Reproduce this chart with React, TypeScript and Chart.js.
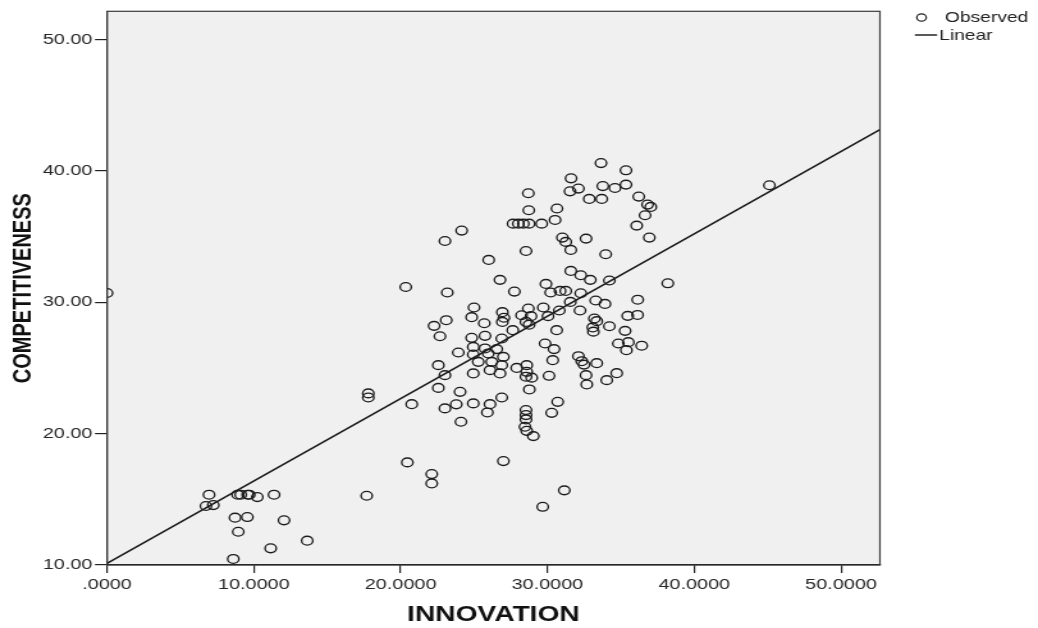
import React, { useEffect, useRef } from 'react';
import { Chart, registerables } from 'chart.js';

Chart.register(...registerables);

// ---- data ----
const innovation = [
  0.0, 6.95, 6.74, 7.24, 8.9, 9.11, 9.58, 9.69, 10.24, 11.38, 8.72, 9.56, 12.06, 8.94, 13.64, 11.15, 8.6,
  17.8, 17.8, 17.69, 20.46, 20.35, 22.12, 22.12, 20.76, 27.0, 29.68, 31.15,
  33.65, 35.35, 31.61, 32.11, 31.54, 33.77, 34.6, 35.35, 32.85, 33.7, 36.22, 36.82, 37.04, 36.65, 36.08, 36.94,
  28.7, 28.73, 30.65, 30.52, 27.66, 28.02, 28.36, 28.75, 29.61, 31.02, 31.25, 31.59, 32.63, 33.97, 28.54,
  24.16, 23.02, 26.0, 45.12,
  23.18, 26.77, 27.75, 29.9, 31.59, 32.27, 32.92, 34.22, 38.2, 30.22, 30.86, 31.25, 32.27, 31.56, 33.29, 33.92, 36.15,
  25.0, 28.7, 29.72, 30.81, 32.22, 26.93, 27.04, 26.93, 28.24, 28.54, 28.75, 28.88, 30.04,
  23.11, 22.28, 24.84, 25.7, 33.2, 33.36, 33.09, 33.13, 34.22, 35.47, 36.14, 35.29, 30.63, 27.64,
  22.68, 24.84, 25.75, 24.95, 25.75, 23.93, 24.95, 25.97, 26.55, 26.89, 27.0, 26.21, 25.29, 26.89, 26.09, 24.95, 26.77,
  22.57, 23.02, 27.91, 28.59, 28.59, 28.54, 28.93, 29.84, 30.45, 30.36, 30.11, 28.77,
  32.11, 32.34, 32.49, 33.36, 32.63, 32.68, 34.72, 34.04, 34.83, 35.51, 35.38, 36.42,
  22.57, 24.05, 23.02, 23.79, 24.95, 26.09, 26.89, 25.91, 24.11,
  28.54, 28.54, 28.54, 28.47, 28.59, 29.04, 30.7, 30.29
];
const competitiveness = [
  30.7, 15.35, 14.49, 14.56, 15.35, 15.35, 15.35, 15.35, 15.17, 15.35, 13.6, 13.65, 13.4, 12.53, 11.85, 11.27, 10.46,
  23.06, 22.75, 15.27, 17.81, 31.16, 16.92, 16.21, 22.24, 17.91, 14.43, 15.68,
  40.59, 40.04, 39.43, 38.65, 38.44, 38.84, 38.69, 38.95, 37.86, 37.86, 38.04, 37.43, 37.25, 36.62, 35.83, 34.92,
  38.29, 37.0, 37.13, 36.26, 35.98, 35.98, 35.98, 35.98, 35.98, 34.92, 34.59, 33.98, 34.84, 33.65, 33.9,
  35.45, 34.66, 33.22, 38.9,
  30.74, 31.7, 30.81, 31.39, 32.38, 32.05, 31.7, 31.65, 31.44, 30.74, 30.86, 30.86, 30.68, 30.02, 30.13, 29.87, 30.19,
  29.6, 29.52, 29.6, 29.37, 29.37, 29.24, 28.82, 28.5, 29.01, 28.5, 28.29, 28.94, 28.94,
  28.63, 28.2, 28.86, 28.4, 28.76, 28.56, 28.08, 27.76, 28.17, 28.96, 29.03, 27.82, 27.87, 27.87,
  27.41, 27.29, 27.44, 26.6, 26.48, 26.17, 26.02, 26.1, 26.43, 27.24, 25.84, 25.46, 25.46, 25.21, 24.83, 24.58, 24.58,
  25.21, 24.45, 25.0, 25.21, 24.7, 24.33, 24.26, 26.86, 26.43, 25.59, 24.4, 23.36,
  25.89, 25.51, 25.25, 25.36, 24.45, 23.74, 24.6, 24.07, 26.86, 26.96, 26.35, 26.69,
  23.48, 23.18, 21.92, 22.23, 22.3, 22.24, 22.75, 21.61, 20.9,
  21.79, 21.41, 21.08, 20.52, 20.21, 19.81, 22.42, 21.58
];
const fitX = [0, 52.65];
const fitY = [10.13, 43.14];

const xTicks = [0, 10, 20, 30, 40, 50];
const xTickLabels = ['.0000', '10.0000', '20.0000', '30.0000', '40.0000', '50.0000'];
const yTicks = [10, 20, 30, 40, 50];
const yTickLabels = ['10.00', '20.00', '30.00', '40.00', '50.00'];
const xTitle = 'INNOVATION';
const yTitle = 'COMPETITIVENESS';
const legendLabels = ['Observed', 'Linear'];

// ---- layout ----
const OUT_W = 1038;
const H = 628;
const STRETCH = 1.28;
const W = Math.round(OUT_W / STRETCH);
const FONT = '"Liberation Sans", Arial, Helvetica, sans-serif';
const AREA_LEFT = 107 / STRETCH;
const AREA_RIGHT = 880 / STRETCH;

const plotFrame = {
  id: 'plotFrame',
  beforeDraw(chart: any) {
    const { ctx, chartArea: a } = chart;
    ctx.save();
    ctx.fillStyle = '#f0f0f0';
    ctx.fillRect(a.left, a.top, a.right - a.left, a.bottom - a.top);
    ctx.restore();
  },
  afterDraw(chart: any) {
    const { ctx, chartArea: a } = chart;
    ctx.save();
    ctx.strokeStyle = '#3a3a3a';
    ctx.lineWidth = 1.2;
    ctx.strokeRect(a.left, a.top, a.right - a.left, a.bottom - a.top);
    // legend
    const lx = a.right;
    const r1 = 18;
    const r2 = 35;
    ctx.strokeStyle = '#222';
    ctx.lineWidth = 1.2;
    ctx.beginPath();
    ctx.arc(lx + 32.5, r1 - 0.5, 3.7, 0, Math.PI * 2);
    ctx.stroke();
    ctx.font = `15px ${FONT}`;
    ctx.fillStyle = '#222';
    ctx.textBaseline = 'middle';
    ctx.textAlign = 'left';
    ctx.fillText(legendLabels[0], lx + 50.8, r1);
    ctx.beginPath();
    ctx.lineWidth = 1.5;
    ctx.moveTo(lx + 27.3, r2);
    ctx.lineTo(lx + 44.7, r2);
    ctx.stroke();
    ctx.fillText(legendLabels[1], lx + 46.3, r2 + 0.5);
    ctx.restore();
  },
};

export default function App() {
  const ref = useRef<HTMLCanvasElement | null>(null);

  useEffect(() => {
    if (!ref.current) return;
    const observed = innovation.map((x, i) => ({ x, y: competitiveness[i] }));
    const fit = fitX.map((x, i) => ({ x, y: fitY[i] }));
    const chart = new Chart(ref.current, {
      type: 'scatter',
      data: {
        datasets: [
          {
            type: 'line',
            label: legendLabels[1],
            data: fit,
            borderColor: '#1a1a1a',
            borderWidth: 1.6,
            pointRadius: 0,
            fill: false,
            order: 2,
          } as any,
          {
            type: 'scatter',
            label: legendLabels[0],
            data: observed,
            pointStyle: 'circle',
            pointRadius: 4.4,
            pointBorderWidth: 1.35,
            borderColor: '#1c1c1c',
            backgroundColor: 'rgba(0,0,0,0)',
            order: 1,
          } as any,
        ],
      },
      options: {
        responsive: false,
        animation: false,
        devicePixelRatio: 1,
        layout: { padding: { left: 0, top: 10, right: W - AREA_RIGHT, bottom: 0 } },
        plugins: { legend: { display: false }, tooltip: { enabled: false } },
        scales: {
          x: {
            type: 'linear',
            min: 0,
            max: 52.65,
            afterFit: (s: any) => { s.height = 63; },
            afterBuildTicks: (s: any) => { s.ticks = xTicks.map((v) => ({ value: v })); },
            ticks: {
              callback: (v: any) => xTickLabels[xTicks.indexOf(Number(v))] ?? '',
              font: { family: FONT, size: 15.5 },
              color: '#262626',
              padding: 2,
              maxRotation: 0,
              autoSkip: false,
            },
            grid: { drawOnChartArea: false, tickLength: 8, color: '#222', lineWidth: 1.2 },
            border: { color: '#111', width: 1.2 },
            title: {
              display: true,
              text: xTitle,
              font: { family: FONT, size: 22, weight: 'bold' },
              color: '#111',
              padding: { top: 0, bottom: 0 },
            },
          },
          y: {
            type: 'linear',
            min: 10,
            max: 52.14,
            afterFit: (s: any) => { s.width = AREA_LEFT; },
            afterBuildTicks: (s: any) => { s.ticks = yTicks.map((v) => ({ value: v })); },
            ticks: {
              callback: (v: any) => yTickLabels[yTicks.indexOf(Number(v))] ?? '',
              font: { family: FONT, size: 15.5 },
              color: '#262626',
              padding: 2,
              autoSkip: false,
            },
            grid: { drawOnChartArea: false, tickLength: 9.4, color: '#222', lineWidth: 1.2 },
            border: { color: '#111', width: 1.2 },
            title: {
              display: true,
              text: yTitle,
              font: { family: FONT, size: 20, weight: 'bold' },
              color: '#111',
              padding: { top: 6, bottom: 0 },
            },
          },
        },
      } as any,
      plugins: [plotFrame],
    });
    return () => chart.destroy();
  }, []);

  return (
    <div style={{ position: 'absolute', left: 0, top: 0, width: OUT_W, height: H, background: '#fff' }}>
      <canvas
        ref={ref}
        width={W}
        height={H}
        style={{ display: 'block', width: `${OUT_W}px`, height: `${H}px` }}
      />
    </div>
  );
}
